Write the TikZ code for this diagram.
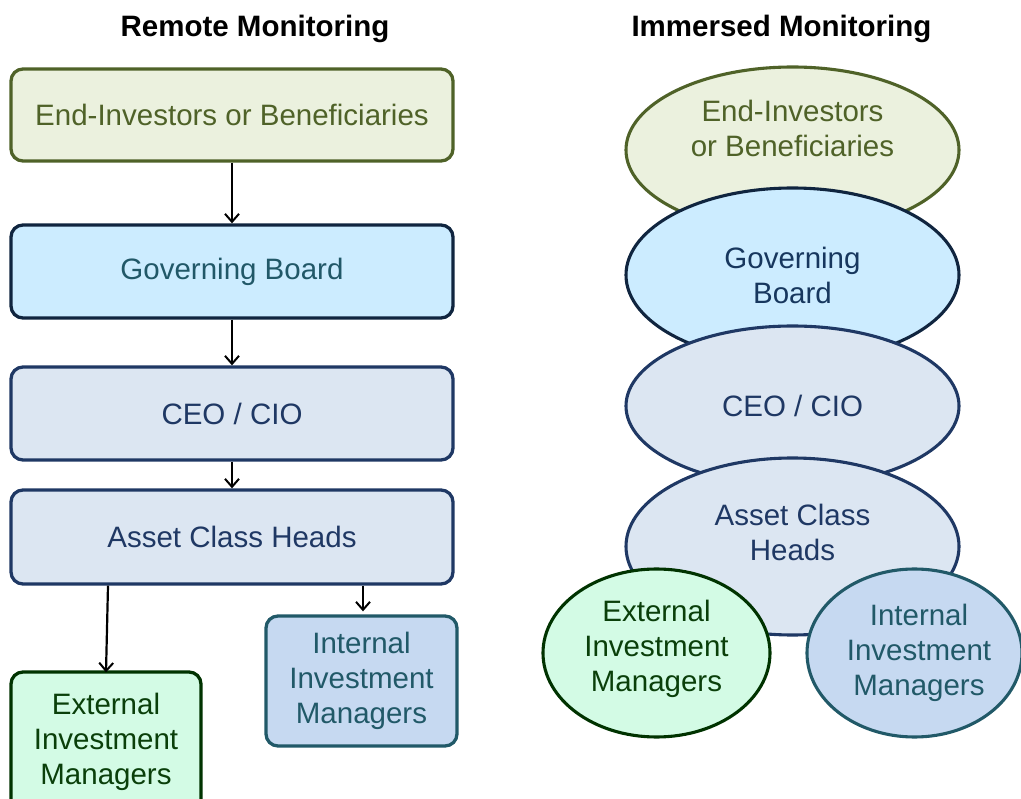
\documentclass[tikz,border=0pt]{standalone}
\usepackage{fontspec}
\setmainfont{Liberation Sans}
\usetikzlibrary{shapes.geometric,arrows.meta}
\definecolor{olfill}{HTML}{EBF1DE}
\definecolor{oldraw}{HTML}{4F6228}
\definecolor{gbfill}{HTML}{CCECFF}
\definecolor{gbdraw}{HTML}{10253F}
\definecolor{gbtext}{HTML}{215868}
\definecolor{gbtextb}{HTML}{17375E}
\definecolor{cefill}{HTML}{DCE6F2}
\definecolor{cedraw}{HTML}{1F3864}
\definecolor{cetext}{HTML}{1F3864}
\definecolor{exfill}{HTML}{D3FBE5}
\definecolor{exdraw}{HTML}{003300}
\definecolor{extext}{HTML}{0A3F0A}
\definecolor{infill}{HTML}{C6D9F1}
\definecolor{indraw}{HTML}{215968}
\begin{document}
\begin{tikzpicture}[x=1pt,y=-1pt,
  every node/.style={font=\fontsize{29.5}{35}\selectfont, align=center, inner sep=0pt},
  box/.style={rectangle, rounded corners=12pt, line width=3.3pt},
  ell/.style={ellipse, line width=3.1pt},
  title/.style={font=\fontsize{29.5}{34}\selectfont\bfseries},
  arr/.style={-{Straight Barb[length=8pt,width=14pt,line width=2pt]}, line width=2.2pt, black}
]
\useasboundingbox (0,0) rectangle (1021,799);

% titles
\node[title] (t1) at (255,29) {Remote Monitoring};
\node[title] (t2) at (781.5,29) {Immersed Monitoring};

% left column
\node[box, draw=oldraw, fill=olfill, text=oldraw, minimum width=442pt, minimum height=92pt] (b1) at (232,115) {End-Investors or Beneficiaries};
\node[box, draw=gbdraw, fill=gbfill, text=gbtext, minimum width=442pt, minimum height=93pt] (b2) at (232,271.5) {Governing Board};
\node[box, draw=cedraw, fill=cefill, text=cetext, minimum width=442pt, minimum height=93pt] (b3) at (232,413.5) {CEO / CIO};
\node[box, draw=cedraw, fill=cefill, text=cetext, minimum width=442pt, minimum height=94pt] (b4) at (232,537) {Asset Class Heads};
\node[box, draw=exdraw, fill=exfill, text=extext, minimum width=190pt, minimum height=140pt] (ex) at (106,742) {External\\Investment\\Managers};
\node[box, draw=indraw, fill=infill, text=indraw, minimum width=191pt, minimum height=130pt] (in) at (361.5,681) {Internal\\Investment\\Managers};

\draw[arr] (b1.south) -- (b2.north);
\draw[arr] (b2.south) -- (b3.north);
\draw[arr] (b3.south) -- (b4.north);
\draw[arr] ([xshift=-124pt]b4.south) -- ([yshift=-2pt]ex.north);
\draw[arr, shorten >=3pt] ([xshift=131pt]b4.south) -- ([xshift=1.5pt]in.north);

% right column
\node[ell, draw=oldraw, fill=olfill, text=oldraw, minimum width=333pt, minimum height=166pt] (e1) at (792.5,150) {};
\node[text=oldraw] (e1t) at (792.5,128.5) {End-Investors\\or Beneficiaries};
\node[ell, draw=gbdraw, fill=gbfill, text=gbtextb, minimum width=333pt, minimum height=174pt] (e2) at (792.5,275) {Governing\\Board};
\node[ell, draw=cedraw, fill=cefill, text=cetext, minimum width=333pt, minimum height=160pt] (e3) at (792.5,406) {CEO / CIO};
\node[ell, draw=cedraw, fill=cefill, text=cetext, minimum width=333pt, minimum height=177pt] (e4) at (792.5,546.5) {};
\node[text=cetext] (e4t) at (792.5,532.5) {Asset Class\\Heads};
\node[ell, draw=exdraw, fill=exfill, text=extext, minimum width=227pt, minimum height=168pt] (e5) at (656.5,653) {};
\node[text=extext] (e5t) at (656.5,648.5) {External\\Investment\\Managers};
\node[ell, draw=indraw, fill=infill, text=indraw, minimum width=215pt, minimum height=168pt] (e6) at (914.5,653) {};
\node[text=indraw] (e6t) at (919,653) {Internal\\Investment\\Managers};
\end{tikzpicture}
\end{document}
